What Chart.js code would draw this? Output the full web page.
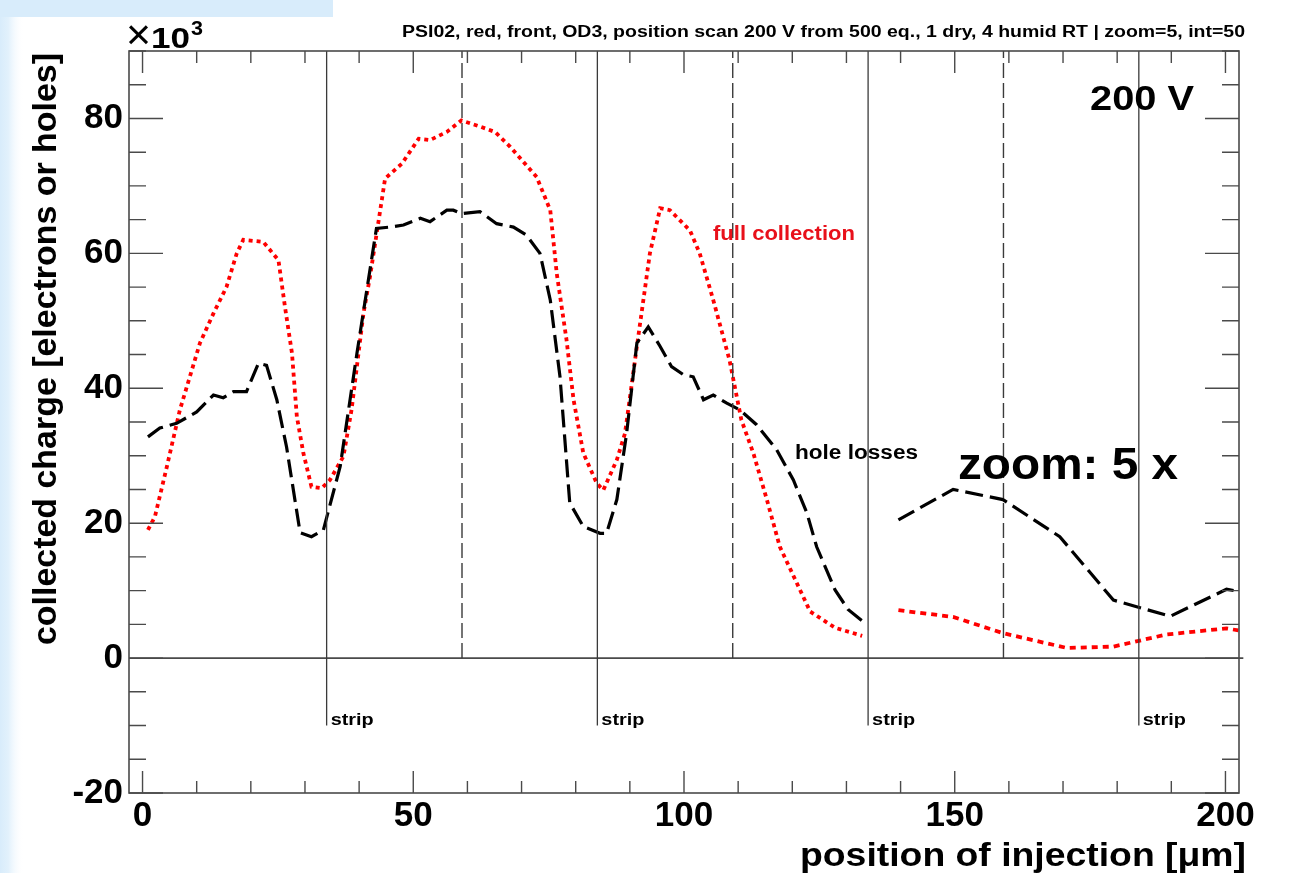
<!DOCTYPE html>
<html><head><meta charset="utf-8">
<script src="https://cdn.jsdelivr.net/npm/chart.js@4.4.1/dist/chart.umd.min.js"></script>
<style>html,body{margin:0;padding:0;background:#fff;overflow:hidden}canvas{display:block}</style>
</head><body>
<canvas id="c" width="1297" height="873"></canvas>
<script>
// ---- data (units: x in µm, y in 10^3 charges) ----
const X_TICKS = [0, 50, 100, 150, 200];
const Y_TICKS = [-20, 0, 20, 40, 60, 80];

const HOLE_X = [1, 3.2, 6.3, 10, 13.1, 14.9, 16.8, 19.2, 21.4, 22.9, 24.8, 26.6, 29.1, 31.2, 33.4, 36.5, 39.6, 43.2, 45.7, 48.2, 51.3, 53.1, 56.2, 57.4, 58.9, 62.3, 65.4, 68.5, 70.9, 73.4, 75.3, 77.1, 78.9, 81.4, 84.5, 85.7, 87.6, 89.4, 91.3, 93.4, 95.6, 97.7, 99.9, 101.7, 103.6, 105.4, 107.9, 110.3, 113.4, 117.1, 120.2, 122.7, 124.5, 127.9, 130.3, 133.1];
const HOLE_Y = [32.8, 34.1, 34.8, 36.5, 39, 38.6, 39.5, 39.5, 43.7, 43.4, 38.3, 31.3, 18.6, 18, 19, 28.4, 45.2, 63.7, 63.9, 64.2, 65.2, 64.7, 66.4, 66.4, 65.9, 66.2, 64.4, 63.9, 62.7, 60, 53.1, 41.7, 23, 19.5, 18.5, 18.5, 23.5, 33.3, 46.7, 49.1, 46.2, 43.2, 42, 41.7, 38.3, 39, 37.8, 36.8, 34.6, 30.9, 26.4, 21.5, 16.5, 10.1, 7.2, 5.4];
const HOLE_ZOOM_X = [139.6, 149.7, 158.9, 169.4, 179.3, 189.8, 200.2, 202.4];
const HOLE_ZOOM_Y = [20.5, 25, 23.5, 18, 8.6, 6.2, 10.2, 9.9];

const FULL_X = [1, 2.3, 4.5, 6.9, 10.6, 13.1, 15.5, 17.4, 18.6, 22.3, 25.1, 26.3, 27.6, 28.5, 29.7, 31.2, 33.1, 34.6, 37.1, 38.6, 40.8, 42, 44.8, 47.9, 51, 53.1, 56.2, 58.9, 62.3, 65.1, 67.9, 70.3, 72.8, 75.3, 76.5, 78.3, 79.6, 81.4, 83.9, 85.1, 87.6, 89.1, 91.3, 93.7, 95.6, 97.4, 101.1, 102.9, 105.4, 108.4, 110.6, 112.8, 115.3, 117.7, 123.3, 127.9, 132.9];
const FULL_Y = [19, 21, 28.4, 36.8, 46.7, 51.1, 55, 60, 62, 61.7, 59, 52.1, 45.2, 35.8, 30.4, 25.4, 25.2, 26.4, 29.9, 36.8, 51.1, 56.5, 71.1, 73.3, 77, 76.8, 78, 79.7, 78.8, 78, 75.8, 73.6, 71.3, 66.4, 57, 47.2, 38.3, 30.4, 25.9, 24.9, 29.4, 33.3, 46.2, 60, 66.7, 66.4, 63.4, 60, 53.1, 44.2, 35.3, 30.4, 23.5, 16.5, 6.9, 4.5, 3.3];
const FULL_ZOOM_X = [139.6, 149.7, 158.9, 170.7, 179.3, 189.1, 200.2, 202.4];
const FULL_ZOOM_Y = [7.1, 6.1, 3.7, 1.5, 1.7, 3.5, 4.4, 4.1];

const STRIP_X = [34, 84, 134, 184];
const MID_X = [59, 109, 159];
const STRIP_BOTTOM = -10;
const X_RANGE = [-2.5, 202.5];
const Y_RANGE = [-20, 90];

// ---- helpers ----
const FONT = '"Liberation Sans", Arial, Helvetica, sans-serif';
const zip = (xs, ys) => xs.map((x, i) => ({x: x, y: ys[i]}));
const FRAME = '#4a4a4a';

const ds = [];
STRIP_X.forEach(x => ds.push({data: [{x: x, y: STRIP_BOTTOM}, {x: x, y: Y_RANGE[1]}], borderColor: '#3a3a3a', borderWidth: 1.3}));
MID_X.forEach(x => ds.push({data: [{x: x, y: 0}, {x: x, y: Y_RANGE[1]}], borderColor: '#3a3a3a', borderWidth: 1.4, borderDash: [15, 5]}));
ds.push({data: [{x: X_RANGE[0], y: 0}, {x: 203.3, y: 0}], borderColor: FRAME, borderWidth: 1.6, clip: false});
ds.push({data: zip(HOLE_X, HOLE_Y), borderColor: '#000', borderWidth: 3.2, borderDash: [18, 7]});
ds.push({data: zip(HOLE_ZOOM_X, HOLE_ZOOM_Y), borderColor: '#000', borderWidth: 3.2, borderDash: [18, 7]});
ds.push({data: zip(FULL_X, FULL_Y), borderColor: '#ff0000', borderWidth: 3.8, borderDash: [4, 4]});
ds.push({data: zip(FULL_ZOOM_X, FULL_ZOOM_Y), borderColor: '#ff0000', borderWidth: 3.8, borderDash: [6, 5]});
ds.forEach(d => { d.showLine = true; d.pointRadius = 0; d.tension = 0; d.fill = false; });

function txt(ctx, s, x, y, size, targetW, align, color, weight) {
  ctx.save();
  ctx.font = (weight || 'bold') + ' ' + size + 'px ' + FONT;
  const w = ctx.measureText(s).width;
  const sx = targetW ? targetW / w : 1;
  ctx.translate(x, y);
  ctx.scale(sx, 1);
  ctx.textAlign = align || 'left';
  ctx.textBaseline = 'alphabetic';
  ctx.fillStyle = color || '#000';
  ctx.fillText(s, 0, 0);
  ctx.restore();
}

const bgPlugin = {
  id: 'bg',
  beforeDraw(chart) {
    const ctx = chart.ctx;
    ctx.save();
    ctx.fillStyle = '#ffffff';
    ctx.fillRect(0, 0, chart.width, chart.height);
    ctx.fillStyle = '#d8ecfb';
    ctx.fillRect(0, 0, 333, 17);
    const g = ctx.createLinearGradient(0, 0, 24, 0);
    g.addColorStop(0, '#d8ecfb');
    g.addColorStop(0.35, '#e2f1fc');
    g.addColorStop(1, 'rgba(255,255,255,0)');
    ctx.fillStyle = g;
    ctx.fillRect(0, 17, 24, chart.height - 17);
    ctx.restore();
  }
};

const framePlugin = {
  id: 'frame',
  afterDatasetsDraw(chart) {
    const ctx = chart.ctx, a = chart.chartArea;
    const xs = chart.scales.x, ys = chart.scales.y;
    ctx.save();
    ctx.strokeStyle = FRAME;
    ctx.lineWidth = 1.6;
    ctx.strokeRect(a.left, a.top, a.right - a.left, a.bottom - a.top);
    ctx.lineWidth = 1.4;
    ctx.beginPath();
    for (let v = 0; v <= 200; v += 10) {
      const px = xs.getPixelForValue(v);
      const L = (v % 50 === 0) ? 22 : 12;
      ctx.moveTo(px, a.bottom); ctx.lineTo(px, a.bottom - L);
      ctx.moveTo(px, a.top); ctx.lineTo(px, a.top + L);
    }
    for (let v = -20; v <= 90; v += 5) {
      const py = ys.getPixelForValue(v);
      const L = (v % 20 === 0) ? 34 : 17;
      ctx.moveTo(a.left, py); ctx.lineTo(a.left + L, py);
      ctx.moveTo(a.right, py); ctx.lineTo(a.right - L, py);
    }
    ctx.stroke();
    ctx.restore();
  }
};

const textPlugin = {
  id: 'texts',
  afterDraw(chart) {
    const ctx = chart.ctx;
    const xs = chart.scales.x, ys = chart.scales.y;
    txt(ctx, 'PSI02, red, front, OD3, position scan 200 V from 500 eq., 1 dry, 4 humid RT | zoom=5, int=50', 1245, 37, 16, 843, 'right');
    txt(ctx, '\u00d7', 126, 49, 42, 25, 'left', '#000', 'normal');
    txt(ctx, '10', 151, 48, 30, 39, 'left');
    txt(ctx, '3', 191, 35, 21, 12, 'left');
    txt(ctx, '200 V', 1090, 110, 35, 104, 'left');
    txt(ctx, 'full collection', 713, 240, 20, 142, 'left', '#e8101a');
    txt(ctx, 'hole losses', 795, 459, 20, 123, 'left');
    txt(ctx, 'zoom: 5 x', 958, 479, 44, 220, 'left');
    const sy = ys.getPixelForValue(STRIP_BOTTOM) - 1;
    STRIP_X.forEach(x => txt(ctx, 'strip', xs.getPixelForValue(x) + 4, sy, 16, 43, 'left'));
    txt(ctx, 'position of injection [\u03bcm]', 1246, 866, 34, 446, 'right');
    ctx.save();
    ctx.translate(56, 645);
    ctx.rotate(-Math.PI / 2);
    txt(ctx, 'collected charge [electrons or holes]', 0, 0, 34, 592, 'left');
    ctx.restore();
  }
};

new Chart(document.getElementById('c'), {
  type: 'scatter',
  data: {datasets: ds},
  options: {
    responsive: false,
    devicePixelRatio: 1,
    animation: false,
    events: [],
    layout: {padding: {top: 51, right: 58, left: 0, bottom: 0}},
    plugins: {legend: {display: false}, tooltip: {enabled: false}},
    scales: {
      x: {
        type: 'linear', min: X_RANGE[0], max: X_RANGE[1],
        grid: {display: false, drawTicks: false, tickLength: 0},
        border: {display: false},
        afterBuildTicks: s => { s.ticks = X_TICKS.map(v => ({value: v})); },
        afterFit: s => { s.height = 80; },
        ticks: {color: '#000', padding: 2, maxRotation: 0, autoSkip: false,
          font: {family: FONT, size: 35, weight: 'bold'}}
      },
      y: {
        type: 'linear', min: Y_RANGE[0], max: Y_RANGE[1],
        grid: {display: false, drawTicks: false, tickLength: 0},
        border: {display: false},
        afterBuildTicks: s => { s.ticks = Y_TICKS.map(v => ({value: v})); },
        afterFit: s => { s.width = 129; },
        ticks: {color: '#000', padding: 6, autoSkip: false,
          font: {family: FONT, size: 35, weight: 'bold'}}
      }
    }
  },
  plugins: [bgPlugin, framePlugin, textPlugin]
});
</script>
</body></html>
